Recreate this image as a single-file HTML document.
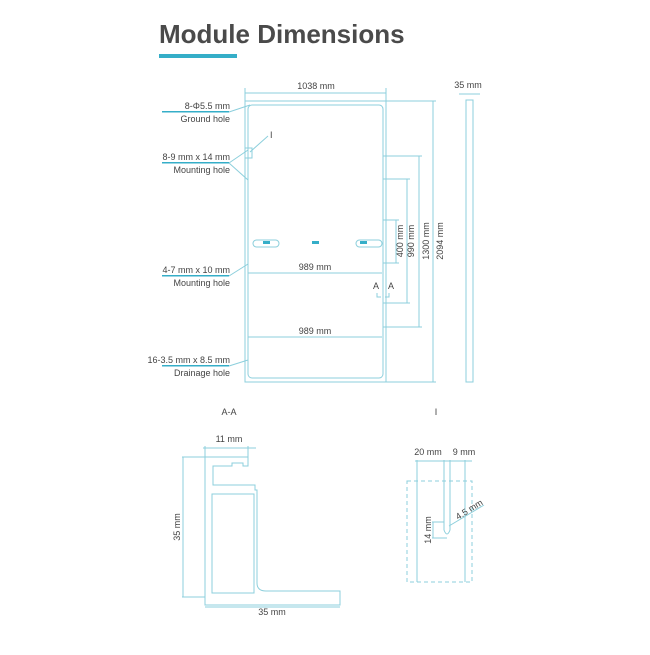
<!DOCTYPE html>
<html><head><meta charset="utf-8"><style>
body{margin:0;background:#fff;width:650px;height:650px;overflow:hidden}
svg text{font-family:"Liberation Sans",sans-serif;fill:#444}
</style></head><body>
<svg width="650" height="650" viewBox="0 0 650 650" xmlns="http://www.w3.org/2000/svg">
<text x="159" y="43" font-size="26" font-weight="bold" fill="#4a4a4a" style="fill:#4a4a4a">Module Dimensions</text>
<rect x="159" y="54" width="78" height="4" fill="#35aec8"/>
<g stroke="#8ccfdc" stroke-width="1" fill="none">
<!-- panel -->
<rect x="245" y="101" width="141" height="281"/>
<rect x="248" y="105" width="135" height="273" rx="4"/>
<line x1="245" y1="93" x2="386" y2="93"/>
<line x1="245" y1="88" x2="245" y2="101"/><line x1="386" y1="88" x2="386" y2="101"/>
<!-- side -->
<rect x="466" y="100" width="7" height="282"/>
<line x1="459" y1="94" x2="480" y2="94"/>
<!-- right dims -->
<line x1="386" y1="101" x2="436" y2="101"/><line x1="386" y1="382" x2="436" y2="382"/><line x1="433" y1="101" x2="433" y2="382"/>
<line x1="383" y1="156" x2="422" y2="156"/><line x1="383" y1="327" x2="422" y2="327"/><line x1="419" y1="156" x2="419" y2="327"/>
<line x1="383" y1="179" x2="410" y2="179"/><line x1="383" y1="303" x2="410" y2="303"/><line x1="407" y1="179" x2="407" y2="303"/>
<line x1="383" y1="220" x2="399" y2="220"/><line x1="383" y1="263" x2="399" y2="263"/><line x1="396" y1="220" x2="396" y2="263"/>
<!-- 989 lines -->
<line x1="248" y1="273" x2="382" y2="273"/><line x1="248" y1="337" x2="382" y2="337"/>
<!-- clips -->
<rect x="253" y="240" width="26" height="7" rx="3.5"/><rect x="356" y="240" width="26" height="7" rx="3.5"/>
<!-- AA marks -->
<path d="M377 293 V297 H381 M389 293 V297 H385"/>
<!-- leaders -->
<line x1="162" y1="112" x2="229" y2="112"/><line x1="229" y1="112" x2="250" y2="105"/>
<line x1="162" y1="163" x2="229" y2="163"/><line x1="229" y1="163" x2="248" y2="150"/><line x1="229" y1="163" x2="248" y2="180"/>
<rect x="245" y="148" width="7" height="10"/><line x1="250" y1="152" x2="268" y2="136"/>
<line x1="162" y1="276" x2="229" y2="276"/><line x1="229" y1="276" x2="248" y2="264"/>
<line x1="162" y1="366" x2="229" y2="366"/><line x1="229" y1="366" x2="248" y2="360"/>
<!-- A-A profile -->
<path d="M205 457 H248 V466 H243 V463 H232 V466 H213 V485 H255 V490 H257 V583 Q257 591 266 591 H340 V605 H205 Z"/>
<path d="M212 494 H254 V593 H212 Z"/>
<line x1="203" y1="448" x2="256" y2="448"/><line x1="205" y1="446" x2="205" y2="457"/><line x1="248" y1="446" x2="248" y2="457"/>
<line x1="182" y1="457" x2="205" y2="457"/><line x1="182" y1="597" x2="205" y2="597"/><line x1="183" y1="457" x2="183" y2="597"/>
<line x1="205" y1="607" x2="340" y2="607"/>
<!-- I detail -->
<rect x="407" y="481" width="65" height="101" stroke-dasharray="4,3"/>
<line x1="417" y1="460" x2="417" y2="582"/><line x1="465" y1="460" x2="465" y2="582"/>
<line x1="415" y1="461" x2="472" y2="461"/>
<path d="M444 460 V530 Q447 538 450 530 V460"/>
<line x1="432" y1="522" x2="444" y2="522"/><line x1="432" y1="538" x2="447" y2="538"/><line x1="433" y1="522" x2="433" y2="538"/>
<line x1="449" y1="526" x2="484" y2="505"/>
</g>
<rect x="263" y="241" width="7" height="3" fill="#35aec8"/><rect x="312" y="241" width="7" height="3" fill="#35aec8"/><rect x="360" y="241" width="7" height="3" fill="#35aec8"/>
<rect x="162" y="111" width="67" height="1.5" fill="#35aec8"/><rect x="162" y="162" width="67" height="1.5" fill="#35aec8"/>
<rect x="162" y="275" width="67" height="1.5" fill="#35aec8"/><rect x="162" y="365" width="67" height="1.5" fill="#35aec8"/>
<g font-size="9">
<text x="316" y="89" text-anchor="middle">1038 mm</text>
<text x="468" y="88" text-anchor="middle">35 mm</text>
<text x="230" y="109" text-anchor="end">8-Φ5.5 mm</text><text x="230" y="122" text-anchor="end">Ground hole</text>
<text x="230" y="160" text-anchor="end">8-9 mm x 14 mm</text><text x="230" y="173" text-anchor="end">Mounting hole</text>
<text x="230" y="273" text-anchor="end">4-7 mm x 10 mm</text><text x="230" y="286" text-anchor="end">Mounting hole</text>
<text x="230" y="363" text-anchor="end">16-3.5 mm x 8.5 mm</text><text x="230" y="376" text-anchor="end">Drainage hole</text>
<text x="270" y="138">I</text>
<text x="315" y="270" text-anchor="middle">989 mm</text>
<text x="315" y="334" text-anchor="middle">989 mm</text>
<text x="376" y="289" text-anchor="middle">A</text><text x="391" y="289" text-anchor="middle">A</text>
<text transform="translate(403,241) rotate(-90)" text-anchor="middle">400 mm</text>
<text transform="translate(414,241) rotate(-90)" text-anchor="middle">990 mm</text>
<text transform="translate(429,241) rotate(-90)" text-anchor="middle">1300 mm</text>
<text transform="translate(443,241) rotate(-90)" text-anchor="middle">2094 mm</text>
<text x="229" y="415" text-anchor="middle">A-A</text>
<text x="436" y="415" text-anchor="middle">I</text>
<text x="229" y="442" text-anchor="middle">11 mm</text>
<text transform="translate(180,527) rotate(-90)" text-anchor="middle">35 mm</text>
<text x="272" y="615" text-anchor="middle">35 mm</text>
<text x="428" y="455" text-anchor="middle">20 mm</text><text x="464" y="455" text-anchor="middle">9 mm</text>
<text transform="translate(431,530) rotate(-90)" text-anchor="middle">14 mm</text>
<text transform="translate(458,520) rotate(-32)">4.5 mm</text>
</g>
</svg>
</body></html>
